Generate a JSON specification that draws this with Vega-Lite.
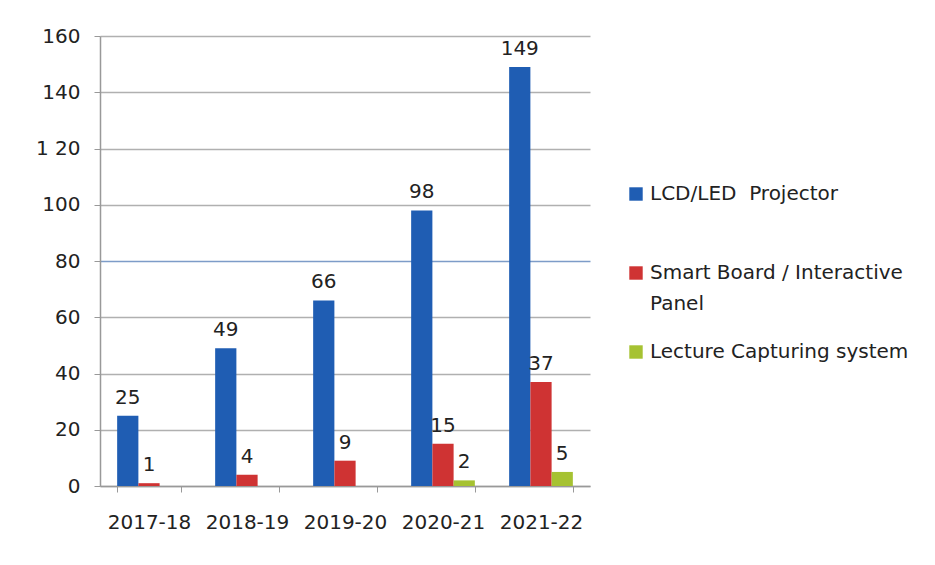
{
  "$schema": "https://vega.github.io/schema/vega-lite/v6.json",
  "width": 490,
  "height": 450,
  "autosize": {"type": "none"},
  "padding": {"left": 100, "top": 36, "right": 345, "bottom": 79},
  "background": "white",
  "config": {
    "font": "DejaVu Sans",
    "view": {"stroke": null},
    "axis": {"labelFont": "DejaVu Sans", "labelColor": "#222222", "labelFontSize": 20}
  },
  "data": {
    "values": [
      {"year": "2017-18", "series": "LCD/LED  Projector", "value": 25},
      {"year": "2017-18", "series": "Smart Board / Interactive Panel", "value": 1},
      {"year": "2017-18", "series": "Lecture Capturing system", "value": 0},
      {"year": "2018-19", "series": "LCD/LED  Projector", "value": 49},
      {"year": "2018-19", "series": "Smart Board / Interactive Panel", "value": 4},
      {"year": "2018-19", "series": "Lecture Capturing system", "value": 0},
      {"year": "2019-20", "series": "LCD/LED  Projector", "value": 66},
      {"year": "2019-20", "series": "Smart Board / Interactive Panel", "value": 9},
      {"year": "2019-20", "series": "Lecture Capturing system", "value": 0},
      {"year": "2020-21", "series": "LCD/LED  Projector", "value": 98},
      {"year": "2020-21", "series": "Smart Board / Interactive Panel", "value": 15},
      {"year": "2020-21", "series": "Lecture Capturing system", "value": 2},
      {"year": "2021-22", "series": "LCD/LED  Projector", "value": 149},
      {"year": "2021-22", "series": "Smart Board / Interactive Panel", "value": 37},
      {"year": "2021-22", "series": "Lecture Capturing system", "value": 5}
    ]
  },
  "encoding": {
    "x": {
      "field": "year", "type": "nominal", "sort": null,
      "scale": {"paddingInner": 0.35, "paddingOuter": 0.175},
      "axis": {
        "title": null, "labelAngle": 0, "domainColor": "#999999", "domainWidth": 1.5,
        "tickColor": "#999999", "tickBand": "extent", "tickSize": 6, "labelPadding": 20
      }
    },
    "xOffset": {
      "field": "series", "type": "nominal",
      "sort": ["LCD/LED  Projector", "Smart Board / Interactive Panel", "Lecture Capturing system"]
    },
    "y": {
      "field": "value", "type": "quantitative",
      "scale": {"domain": [0, 160], "nice": false},
      "axis": {
        "title": null, "values": [0, 20, 40, 60, 80, 100, 120, 140, 160],
        "labelExpr": "datum.value === 120 ? '1 20' : datum.label",
        "domainColor": "#999999", "domainWidth": 1.5, "tickColor": "#999999", "tickSize": 6,
        "labelPadding": 14,
        "gridColor": {"condition": {"test": "datum.value === 80", "value": "#7d9cc8"}, "value": "#b0b0b0"},
        "gridWidth": 1.3
      }
    }
  },
  "layer": [
    {
      "mark": {"type": "bar"},
      "encoding": {
        "color": {
          "field": "series", "type": "nominal",
          "sort": ["LCD/LED  Projector", "Smart Board / Interactive Panel", "Lecture Capturing system"],
          "scale": {
            "domain": ["LCD/LED  Projector", "Smart Board / Interactive Panel", "Lecture Capturing system"],
            "range": ["#1f5db3", "#cf3333", "#a6c232"]
          },
          "legend": {
            "title": null, "orient": "none", "legendX": 526, "legendY": 148,
            "symbolType": "square", "symbolSize": 180, "symbolStrokeWidth": 0,
            "labelFontSize": 20, "labelColor": "#222222", "labelFont": "DejaVu Sans",
            "labelLimit": 400, "rowPadding": 28,
            "labelExpr": "datum.label === 'Smart Board / Interactive Panel' ? ['Smart Board / Interactive', 'Panel'] : datum.label === 'LCD/LED  Projector' ? ['LCD/LED\u00a0 Projector', ''] : datum.label",
            "encode": {"labels": {"update": {"lineHeight": {"value": 31}}}}
          }
        }
      }
    },
    {
      "transform": [{"filter": "datum.value > 0"}],
      "mark": {"type": "text", "baseline": "bottom", "dy": -8, "fontSize": 20, "color": "#222222", "font": "DejaVu Sans"},
      "encoding": {"text": {"field": "value", "type": "quantitative"}}
    }
  ]
}
